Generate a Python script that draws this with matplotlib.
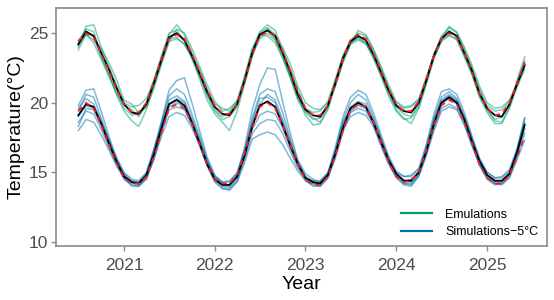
import numpy as np
import pandas as pd
import matplotlib
matplotlib.use("Agg")
import matplotlib.pyplot as plt
import matplotlib.dates as mdates
from matplotlib.lines import Line2D

plt.rcParams['font.family'] = ['Liberation Sans', 'DejaVu Sans']

# monthly values, Jul 2020 .. Jun 2025 (one row per Jul-Jun year)
dates = pd.date_range('2020-07-01', periods=60, freq='MS')

emu_members = [
    [24.0, 25.5, 25.6, 24.0, 22.6, 21.3, 20.0, 19.7, 19.8, 20.3, 21.6, 23.3,
     24.9, 25.6, 24.9, 23.6, 22.4, 21.0, 19.9, 19.6, 19.4, 20.2, 21.9, 23.9,
     25.1, 25.6, 25.2, 23.8, 22.4, 20.9, 19.6, 19.3, 19.4, 20.1, 21.7, 23.4,
     24.5, 25.0, 24.8, 23.8, 22.5, 21.1, 20.0, 19.6, 19.7, 20.3, 21.8, 23.5,
     24.8, 25.4, 25.1, 23.9, 22.5, 21.0, 19.8, 19.4, 19.5, 20.1, 21.5, 23.0],
    [24.5, 25.2, 24.7, 23.3, 22.0, 20.6, 19.4, 18.7, 18.3, 19.5, 21.2, 22.9,
     24.4, 24.6, 24.2, 23.2, 21.7, 20.2, 19.2, 18.6, 18.0, 19.4, 21.3, 23.4,
     24.6, 25.0, 24.5, 23.3, 21.9, 20.3, 19.1, 18.4, 18.5, 19.5, 21.2, 23.0,
     24.3, 24.6, 24.3, 23.2, 21.9, 20.5, 19.4, 18.8, 18.9, 19.7, 21.4, 23.2,
     24.4, 24.9, 24.5, 23.3, 22.0, 20.4, 19.3, 18.5, 18.5, 19.6, 21.1, 22.4],
    [23.8, 24.9, 24.5, 23.9, 22.9, 21.7, 20.2, 19.9, 19.3, 19.7, 21.0, 22.8,
     24.4, 25.3, 25.0, 23.9, 22.6, 21.3, 20.1, 19.4, 19.6, 20.1, 21.5, 23.3,
     25.0, 25.4, 24.9, 24.0, 22.8, 21.2, 20.0, 19.6, 19.5, 20.0, 21.2, 22.9,
     24.2, 25.2, 24.9, 23.9, 22.6, 21.3, 20.1, 19.7, 19.8, 20.2, 21.7, 23.3,
     24.5, 25.5, 25.0, 24.0, 22.7, 21.2, 20.0, 19.6, 19.7, 20.2, 21.3, 22.6],
    [24.3, 25.3, 25.1, 23.4, 22.0, 20.7, 19.6, 19.1, 19.2, 20.0, 21.6, 23.4,
     25.0, 25.2, 24.4, 23.2, 21.9, 20.6, 19.5, 19.0, 19.3, 20.0, 21.7, 23.7,
     24.7, 25.3, 24.6, 23.4, 21.8, 20.2, 19.3, 18.8, 18.9, 19.7, 21.5, 23.3,
     24.3, 24.7, 24.3, 23.3, 22.0, 20.8, 19.7, 19.2, 19.0, 19.9, 21.5, 23.5,
     24.7, 25.2, 24.8, 23.5, 22.2, 20.5, 19.5, 18.8, 19.0, 19.8, 21.4, 22.9],
    [24.1, 24.9, 24.3, 23.1, 21.9, 20.8, 19.8, 19.5, 19.0, 19.8, 21.3, 23.1,
     24.6, 24.7, 24.2, 23.3, 22.0, 20.5, 19.4, 18.8, 19.0, 19.7, 21.8, 23.8,
     24.9, 24.8, 24.3, 23.2, 21.8, 20.4, 19.4, 18.9, 18.6, 19.6, 21.3, 23.0,
     24.2, 24.5, 24.2, 23.4, 22.1, 20.7, 19.5, 18.9, 18.5, 19.6, 21.3, 23.2,
     24.5, 24.8, 24.6, 23.4, 22.1, 20.6, 19.5, 18.7, 18.6, 19.7, 21.6, 23.3],
]

sim_members = [
    [19.8, 20.9, 21.0, 19.4, 17.6, 16.0, 14.9, 14.4, 14.3, 14.9, 16.5, 18.7,
     20.9, 21.6, 21.8, 20.0, 18.0, 16.1, 14.8, 14.3, 14.4, 14.9, 16.8, 19.5,
     21.3, 22.5, 22.4, 20.1, 17.8, 15.9, 14.9, 14.5, 14.3, 14.9, 16.8, 19.0,
     20.4, 20.9, 20.6, 19.3, 17.7, 16.2, 15.1, 14.7, 14.8, 15.3, 17.0, 19.2,
     20.8, 21.0, 20.6, 19.3, 17.6, 16.0, 15.0, 14.6, 14.7, 15.2, 16.7, 18.9],
    [18.0, 18.8, 18.6, 17.7, 16.6, 15.5, 14.6, 14.2, 14.1, 14.6, 15.9, 17.6,
     19.0, 19.3, 19.1, 18.2, 16.9, 15.5, 14.4, 13.9, 13.7, 14.3, 15.7, 17.4,
     17.7, 17.9, 17.7, 17.0, 16.0, 15.1, 14.4, 14.1, 14.0, 14.6, 16.0, 17.9,
     19.3, 19.6, 19.4, 18.5, 17.1, 15.7, 14.8, 14.2, 14.1, 14.8, 16.3, 18.2,
     19.6, 19.9, 19.6, 18.5, 17.0, 15.6, 14.6, 14.2, 14.1, 14.6, 15.9, 17.3],
    [18.6, 19.4, 19.2, 18.1, 16.8, 15.6, 14.5, 14.1, 14.0, 14.5, 16.0, 17.9,
     19.5, 19.7, 19.5, 18.4, 17.0, 15.5, 14.3, 13.8, 13.8, 14.4, 15.9, 17.8,
     18.5, 18.8, 18.7, 17.8, 16.5, 15.3, 14.5, 14.2, 14.3, 14.9, 16.4, 18.1,
     19.0, 19.3, 19.1, 18.3, 16.9, 15.6, 14.6, 14.1, 14.0, 14.7, 16.2, 18.0,
     19.4, 19.7, 19.5, 18.4, 16.9, 15.5, 14.5, 14.1, 14.2, 14.7, 16.1, 17.8],
    [19.4, 20.6, 20.4, 18.9, 17.3, 15.9, 14.8, 14.3, 14.2, 14.9, 16.6, 18.6,
     20.5, 21.0, 20.6, 19.2, 17.6, 15.9, 14.7, 14.2, 14.1, 14.8, 16.5, 18.9,
     20.6, 21.0, 20.8, 19.3, 17.4, 15.8, 14.7, 14.3, 14.2, 14.8, 16.6, 18.7,
     20.0, 20.6, 20.2, 19.0, 17.5, 16.0, 14.9, 14.4, 14.3, 15.0, 16.7, 18.9,
     20.4, 20.8, 20.3, 19.0, 17.4, 15.9, 14.8, 14.3, 14.3, 15.0, 16.5, 18.5],
    [19.0, 19.8, 19.6, 18.5, 17.2, 15.9, 14.8, 14.3, 14.3, 14.8, 16.3, 18.2,
     19.9, 20.3, 20.0, 18.7, 17.2, 15.7, 14.6, 14.1, 14.0, 14.7, 16.4, 18.5,
     19.9, 20.6, 20.2, 18.8, 17.2, 15.7, 14.6, 14.2, 14.1, 14.8, 16.5, 18.4,
     19.7, 20.1, 19.9, 18.8, 17.4, 16.0, 14.9, 14.4, 14.5, 15.0, 16.6, 18.6,
     20.1, 20.5, 20.1, 18.9, 17.3, 15.8, 14.8, 14.4, 14.4, 14.9, 16.5, 18.6],
    [19.6, 20.3, 19.9, 18.7, 17.4, 16.1, 15.0, 14.5, 14.4, 15.0, 16.7, 18.5,
     20.2, 20.5, 20.1, 18.9, 17.4, 15.9, 14.7, 14.3, 14.3, 15.0, 16.6, 18.7,
     20.3, 20.4, 20.0, 18.6, 17.1, 15.7, 14.6, 14.4, 14.4, 15.0, 16.5, 18.6,
     19.5, 19.9, 19.7, 18.7, 17.3, 15.9, 15.0, 14.7, 14.7, 15.2, 16.8, 18.8,
     20.2, 20.6, 20.2, 19.0, 17.5, 16.0, 15.0, 14.6, 14.6, 15.1, 16.6, 18.9],
    [18.3, 19.6, 19.5, 18.4, 17.0, 15.7, 14.6, 14.0, 14.0, 14.6, 16.1, 18.0,
     19.7, 20.0, 19.7, 18.5, 17.0, 15.6, 14.5, 14.0, 13.9, 14.5, 16.2, 18.1,
     19.1, 19.4, 19.2, 18.2, 16.8, 15.5, 14.4, 14.0, 14.0, 14.6, 16.2, 18.2,
     19.4, 19.8, 19.6, 18.5, 17.0, 15.7, 14.7, 14.2, 14.2, 14.8, 16.4, 18.3,
     19.9, 20.3, 19.9, 18.7, 17.1, 15.6, 14.6, 14.2, 14.2, 14.8, 16.3, 18.1],
]

emu_mean = [24.2, 25.1, 24.8, 23.6, 22.4, 21.1, 19.9, 19.3, 19.2, 19.9, 21.4, 23.1,
            24.7, 25.0, 24.5, 23.4, 22.1, 20.8, 19.7, 19.2, 19.1, 19.9, 21.6, 23.6,
            24.9, 25.2, 24.8, 23.6, 22.2, 20.6, 19.5, 19.1, 19.0, 19.8, 21.4, 23.2,
            24.4, 24.8, 24.5, 23.5, 22.2, 20.9, 19.8, 19.4, 19.3, 20.0, 21.6, 23.4,
            24.6, 25.1, 24.8, 23.6, 22.3, 20.7, 19.6, 19.1, 19.0, 19.9, 21.3, 22.7]
emu_ref = [24.4, 25.0, 24.7, 23.5, 22.3, 21.0, 19.9, 19.3, 19.3, 20.0, 21.5, 23.2,
           24.6, 24.9, 24.6, 23.5, 22.2, 20.9, 19.8, 19.2, 19.2, 19.9, 21.5, 23.5,
           24.8, 25.1, 24.8, 23.7, 22.3, 20.8, 19.6, 19.1, 19.1, 19.8, 21.3, 23.1,
           24.5, 24.9, 24.6, 23.6, 22.3, 21.0, 19.9, 19.4, 19.4, 20.1, 21.7, 23.4,
           24.6, 25.0, 24.7, 23.6, 22.2, 20.7, 19.6, 19.1, 19.2, 20.0, 21.4, 22.9]
sim_mean = [19.1, 19.9, 19.7, 18.5, 17.1, 15.8, 14.7, 14.3, 14.2, 14.8, 16.3, 18.2,
            19.9, 20.2, 19.8, 18.6, 17.1, 15.6, 14.5, 14.1, 14.1, 14.7, 16.2, 18.3,
            19.8, 20.1, 19.7, 18.4, 16.9, 15.6, 14.6, 14.3, 14.2, 14.8, 16.3, 18.2,
            19.6, 20.0, 19.7, 18.6, 17.2, 15.9, 14.9, 14.4, 14.4, 15.0, 16.5, 18.5,
            20.0, 20.4, 20.0, 18.8, 17.2, 15.8, 14.8, 14.4, 14.4, 14.9, 16.4, 18.4]
sim_ref = [19.4, 20.0, 19.6, 18.4, 17.0, 15.7, 14.6, 14.2, 14.2, 14.7, 16.1, 17.9,
           19.6, 19.9, 19.6, 18.5, 17.0, 15.6, 14.5, 14.2, 14.2, 14.8, 16.4, 18.2,
           19.7, 20.0, 19.6, 18.4, 17.0, 15.6, 14.5, 14.1, 14.1, 14.7, 16.2, 18.0,
           19.5, 19.9, 19.7, 18.6, 17.2, 15.8, 14.7, 14.3, 14.4, 15.0, 16.6, 18.4,
           19.8, 20.2, 19.9, 18.6, 17.1, 15.6, 14.6, 14.2, 14.2, 14.8, 16.1, 17.6]

labels = ['Emulations', 'Simulations\u22125\u00b0C']
green = '#009e73'
blue = '#0072b2'

fig = plt.figure(figsize=(5.54, 3.0), dpi=100)
ax = fig.add_axes([0.101, 0.18, 0.886, 0.793])

for m in emu_members:
    ax.plot(dates, m, color=green, alpha=0.5, lw=1.1)
for m in sim_members:
    ax.plot(dates, m, color=blue, alpha=0.5, lw=1.1)

for s in [emu_mean, sim_mean]:
    ax.plot(dates, s, color='black', lw=1.3)
for s in [emu_ref, sim_ref]:
    ax.plot(dates, s, color='#ff1a1a', lw=1.3, ls=(0, (3, 2.5)))

ax.set_ylim(9.71, 26.8)
ax.set_yticks([10, 15, 20, 25])
ax.set_xlim(pd.Timestamp('2020-04-02'), pd.Timestamp('2025-08-29'))
ax.xaxis.set_major_locator(mdates.YearLocator())
ax.xaxis.set_major_formatter(mdates.DateFormatter('%Y'))

for sp in ax.spines.values():
    sp.set_color('#8a8a8a')
    sp.set_linewidth(1.2)
ax.tick_params(colors='#8a8a8a', labelcolor='#4d4d4d', labelsize=12.5,
               length=3.5, width=1.0)
ax.tick_params(axis='x', pad=5)
ax.tick_params(axis='y', pad=2)

ax.set_xlabel('Year', fontsize=14, labelpad=2)
ax.set_ylabel('Temperature(\u00b0C)', fontsize=14, labelpad=3)

handles = [Line2D([], [], color=green, lw=1.6),
           Line2D([], [], color=blue, lw=1.6)]
ax.legend(handles, labels, loc='lower right', frameon=False, fontsize=9,
          handlelength=2.5, handletextpad=1.0, labelspacing=0.45,
          borderaxespad=0.3, bbox_to_anchor=(1.0, -0.005))

fig.savefig('out.png', dpi=100)
